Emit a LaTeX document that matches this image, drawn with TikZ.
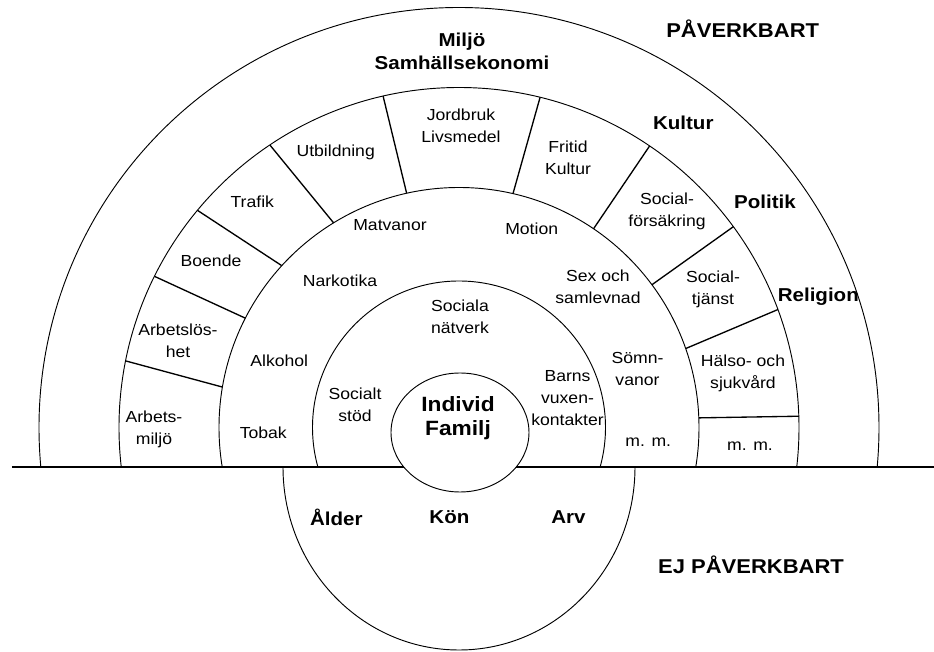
\documentclass[tikz,border=0pt]{standalone}
\usepackage{fontspec}
\setmainfont{Liberation Sans}[FakeStretch=1.1]

\begin{document}
\begin{tikzpicture}[
  x=0.75pt,y=0.75pt,
  font=\fontsize{12}{16.5}\selectfont,
  ring/.style={line width=0.7pt},
  divider/.style={line width=1pt},
  lbl/.style={align=center,inner sep=0pt},
  big/.style={lbl,font=\fontsize{14}{17.3}\selectfont\bfseries}
]
\useasboundingbox (-459,-224.5) rectangle (475,427.5);

% rings above the ground line
\begin{scope}
\clip (-459,-39.5) rectangle (475,427.5);
\draw[ring] (0,0) circle[radius=420];
\draw[ring] (0,0) circle[radius=340];
\draw[ring] (0,0) circle[radius=240];
\draw[ring] (0,0) circle[radius=146.5];
\end{scope}

% lower half (not open to influence)
\draw[ring] (-176,-39.5) arc[start angle=180,end angle=360,x radius=176,y radius=183];

% ground line
\coordinate (gl) at (-447,-39.5);
\coordinate (gr) at (475,-39.5);
\draw[line width=1pt] (gl) -- (gr);

% centre
\draw[ring,fill=white] (1,-5) ellipse[x radius=69,y radius=59.5];

% sector walls
\draw[divider] (168.7:340) -- (170.3:240);
\draw[divider] (153.6:340) -- (152.9:240);
\draw[divider] (140.3:340) -- (137.6:240);
\draw[divider] (123.8:340) -- (121.5:240);
\draw[divider] (102.9:340) -- (102.6:240);
\draw[divider] (76.2:340) -- (77.0:240);
\draw[divider] (55.9:340) -- (55.9:240);
\draw[divider] (36.2:340) -- (36.5:240);
\draw[divider] (20.3:340) -- (19.2:240);
\draw[divider] (1.9:340) -- (2.3:240);

% sector ring
\node[lbl] (arbetsmiljo) at (-305,-1.5) {Arbets-\\miljö};
\node[lbl] (arbetsloshet) at (-281,86.5) {Arbetslös-\\het};
\node[lbl] (boende) at (-248,166.8) {Boende};
\node[lbl] (trafik) at (-206.7,225.8) {Trafik};
\node[lbl] (utbildning) at (-123.3,274.8) {Utbildning};
\node[lbl] (jordbruk) at (2,301.5) {Jordbruk\\Livsmedel};
\node[lbl] (fritid) at (109,270) {Fritid\\Kultur};
\node[lbl] (socforsakring) at (208,216.5) {Social-\\försäkring};
\node[lbl] (soctjanst) at (254,138.5) {Social-\\tjänst};
\node[lbl] (halso) at (284,54.5) {Hälso- och\\sjukvård};
\node[lbl] (mmsector) at (291,-18.5) {m. m.};

% habits ring
\node[lbl] (tobak) at (-195.7,-5.2) {Tobak};
\node[lbl] (alkohol) at (-179.7,66.5) {Alkohol};
\node[lbl] (narkotika) at (-119,146.8) {Narkotika};
\node[lbl] (matvanor) at (-69,202.5) {Matvanor};
\node[lbl] (motion) at (72.7,199.2) {Motion};
\node[lbl] (samlevnad) at (139,140.5) {Sex och\\samlevnad};
\node[lbl] (somnvanor) at (178.5,58.5) {Sömn-\\vanor};
\node[lbl] (mmhabits) at (189.3,-14.2) {m. m.};

% network ring
\node[lbl] (natverk) at (1,110.5) {Sociala\\nätverk};
\node[lbl] (stod) at (-104,22.8) {Socialt\\stöd};
\node[lbl] (barns) at (108.5,29.2) {Barns\\vuxen-\\kontakter};

\node[lbl,font=\fontsize{15.5}{17.5}\selectfont\bfseries] (individ) at (-1,9.5) {Individ\\Familj};

% outer band
\node[big] (miljo) at (3,375.8) {Miljö\\Samhällsekonomi};
\node[big] (kultur) at (224.3,304.2) {Kultur};
\node[big] (politik) at (306,225.8) {Politik};
\node[big] (religion) at (359.3,130.8) {Religion};
\node[big,font=\fontsize{15}{18}\selectfont\bfseries] (paverkbart) at (283.7,399.2) {PÅVERKBART};

% lower half
\node[big] (alder) at (-122.7,-89.8) {Ålder};
\node[big] (kon) at (-9.6,-89.8) {Kön};
\node[big] (arv) at (109.5,-89.8) {Arv};
\node[big,font=\fontsize{15}{18}\selectfont\bfseries] (ejpaverkbart) at (292,-136.8) {EJ PÅVERKBART};
\end{tikzpicture}
\end{document}
